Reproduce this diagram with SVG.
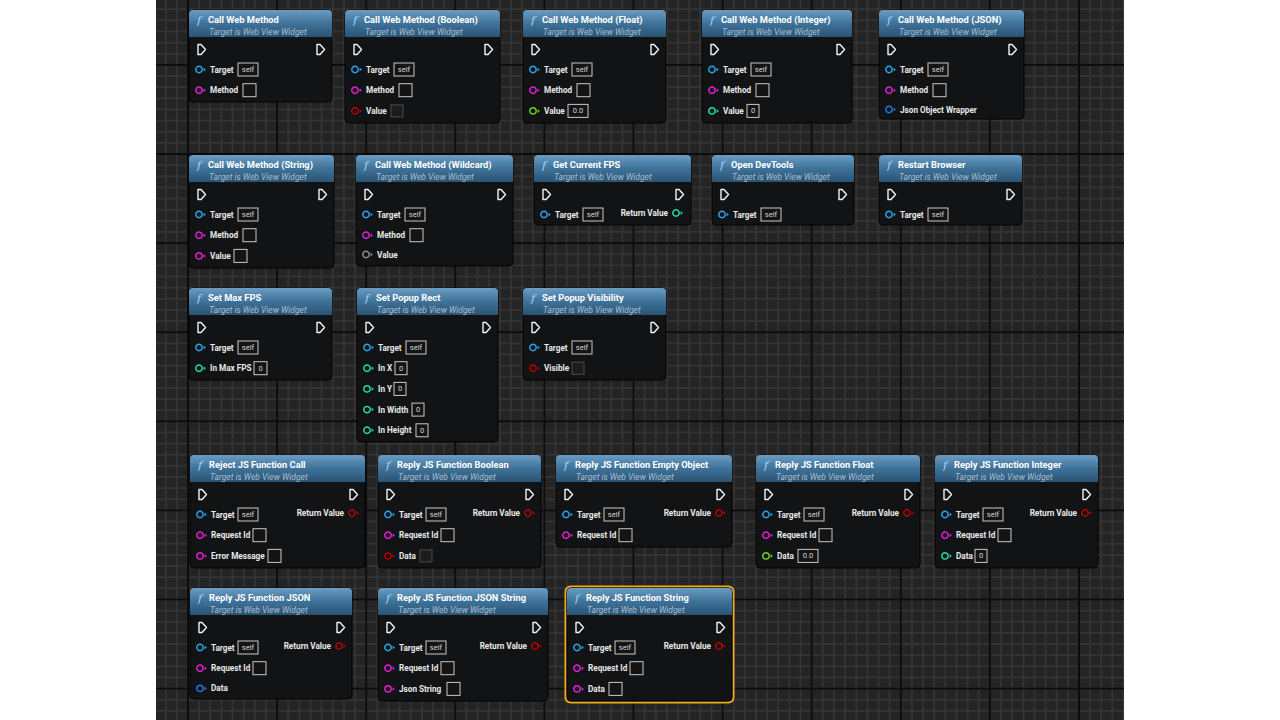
<svg xmlns="http://www.w3.org/2000/svg" xmlns:xlink="http://www.w3.org/1999/xlink" width="1280" height="720" viewBox="0 0 1280 720">
<defs>
<pattern id="minor" patternUnits="userSpaceOnUse" x="188" y="154" width="11.1375" height="11.1375">
<rect width="11.1375" height="11.1375" fill="#242424"/>
<path d="M0,0V11.1375M11.1375,0V11.1375M0,0H11.1375M0,11.1375H11.1375" stroke="#373737" stroke-width="1.4" fill="none"/>
</pattern>
<pattern id="major" patternUnits="userSpaceOnUse" x="188" y="154" width="89.1" height="89.1">
<path d="M0,0V89.1M89.1,0V89.1M0,0H89.1M0,89.1H89.1" stroke="#0c0c0c" stroke-width="2" fill="none"/>
</pattern>
<linearGradient id="hg" x1="0" y1="0" x2="0" y2="1">
<stop offset="0" stop-color="#6b9dc3"/>
<stop offset="0.5" stop-color="#3f7299"/>
<stop offset="1" stop-color="#2a5373"/>
</linearGradient>
<path id="ex" d="M-3.5,-5h3l4.5,5l-4.5,5h-3z" fill="none" stroke="#f2f2f2" stroke-width="1.4" stroke-linejoin="round"/>
<g id="pin"><circle r="3.2" fill="none" stroke="currentColor" stroke-width="1.5"/><path d="M4.6,-2L6.8,0L4.6,2z" fill="currentColor"/></g>
<style>
.body{fill:#121314;stroke:#030303;stroke-width:1}
.hdr{fill:url(#hg)}
.title{font-family:Roboto,"Liberation Sans",sans-serif;font-weight:bold;font-size:9.3px;fill:#ffffff}
.sub{font-family:Roboto,"Liberation Sans",sans-serif;font-style:italic;font-size:8.5px;fill:#a7bfd0}
.fi{font-family:"DejaVu Serif",serif;font-style:italic;font-size:11.5px;fill:#9fd6ff}
.lbl{font-family:Roboto,"Liberation Sans",sans-serif;font-weight:bold;font-size:8.2px;fill:#e8e8e8}
.rl{font-family:Roboto,"Liberation Sans",sans-serif;font-weight:bold;font-size:8.2px;fill:#e8e8e8;text-anchor:end}
.box{fill:#141414;stroke:#c9c9c9;stroke-width:1}
.bbox{fill:#1c1c1c;stroke:#4c4c4c;stroke-width:1}
.val{font-family:Roboto,"Liberation Sans",sans-serif;font-size:7.5px;fill:#d4d4d4;text-anchor:middle}
.obj{color:#27a6ef}
.str{color:#e51ed8}
.bool{color:#b30000}
.flt{color:#6ad21e}
.int{color:#22dca6}
.wild{color:#8c8c8c}
.jsn{color:#1f78e6}
.sel{fill:none;stroke:#f0aa1e;stroke-width:2}
</style>
</defs>
<rect width="1280" height="720" fill="#ffffff"/>
<rect x="156" y="0" width="968" height="720" fill="url(#minor)"/>
<rect x="156" y="0" width="968" height="720" fill="url(#major)"/>
<g id="connectors"></g>

<g id="n1" transform="translate(189,10)">
<rect class="body" width="143" height="92" rx="4"/>
<path class="hdr" d="M0,27V4Q0,0 4,0H139Q143,0 143,4V27Z"/>
<text class="fi" x="8" y="14">f</text><text class="title" x="19" y="12.5">Call Web Method</text>
<text class="sub" x="20" y="24.5">Target is Web View Widget</text>
<use href="#ex" x="12.5" y="39.5"/><use href="#ex" x="131.5" y="39.5"/>
<use href="#pin" class="obj" x="10" y="59.5"/><text class="lbl" x="21" y="62.5">Target</text><rect class="box" x="49" y="53" width="20" height="13"/><text class="val" x="59" y="62">self</text>
<use href="#pin" class="str" x="10" y="80.2"/><text class="lbl" x="21" y="83.2">Method</text><rect class="box" x="54" y="73.7" width="13" height="13"/>
</g>

<g id="n2" transform="translate(345,10)">
<rect class="body" width="155" height="113" rx="4"/>
<path class="hdr" d="M0,27V4Q0,0 4,0H151Q155,0 155,4V27Z"/>
<text class="fi" x="8" y="14">f</text><text class="title" x="19" y="12.5">Call Web Method (Boolean)</text>
<text class="sub" x="20" y="24.5">Target is Web View Widget</text>
<use href="#ex" x="12.5" y="39.5"/><use href="#ex" x="143.5" y="39.5"/>
<use href="#pin" class="obj" x="10" y="59.5"/><text class="lbl" x="21" y="62.5">Target</text><rect class="box" x="49" y="53" width="20" height="13"/><text class="val" x="59" y="62">self</text>
<use href="#pin" class="str" x="10" y="80.2"/><text class="lbl" x="21" y="83.2">Method</text><rect class="box" x="54" y="73.7" width="13" height="13"/>
<use href="#pin" class="bool" x="10" y="100.9"/><text class="lbl" x="21" y="103.9">Value</text><rect class="bbox" x="46" y="94.9" width="12" height="12"/>
</g>

<g id="n3" transform="translate(523,10)">
<rect class="body" width="143" height="113" rx="4"/>
<path class="hdr" d="M0,27V4Q0,0 4,0H139Q143,0 143,4V27Z"/>
<text class="fi" x="8" y="14">f</text><text class="title" x="19" y="12.5">Call Web Method (Float)</text>
<text class="sub" x="20" y="24.5">Target is Web View Widget</text>
<use href="#ex" x="12.5" y="39.5"/><use href="#ex" x="131.5" y="39.5"/>
<use href="#pin" class="obj" x="10" y="59.5"/><text class="lbl" x="21" y="62.5">Target</text><rect class="box" x="49" y="53" width="20" height="13"/><text class="val" x="59" y="62">self</text>
<use href="#pin" class="str" x="10" y="80.2"/><text class="lbl" x="21" y="83.2">Method</text><rect class="box" x="54" y="73.7" width="13" height="13"/>
<use href="#pin" class="flt" x="10" y="100.9"/><text class="lbl" x="21" y="103.9">Value</text><rect class="box" x="45" y="94.4" width="20" height="13"/><text class="val" x="55" y="103.4">0.0</text>
</g>

<g id="n4" transform="translate(702,10)">
<rect class="body" width="150" height="113" rx="4"/>
<path class="hdr" d="M0,27V4Q0,0 4,0H146Q150,0 150,4V27Z"/>
<text class="fi" x="8" y="14">f</text><text class="title" x="19" y="12.5">Call Web Method (Integer)</text>
<text class="sub" x="20" y="24.5">Target is Web View Widget</text>
<use href="#ex" x="12.5" y="39.5"/><use href="#ex" x="138.5" y="39.5"/>
<use href="#pin" class="obj" x="10" y="59.5"/><text class="lbl" x="21" y="62.5">Target</text><rect class="box" x="49" y="53" width="20" height="13"/><text class="val" x="59" y="62">self</text>
<use href="#pin" class="str" x="10" y="80.2"/><text class="lbl" x="21" y="83.2">Method</text><rect class="box" x="54" y="73.7" width="13" height="13"/>
<use href="#pin" class="int" x="10" y="100.9"/><text class="lbl" x="21" y="103.9">Value</text><rect class="box" x="45" y="94.4" width="12" height="13"/><text class="val" x="51" y="103.4">0</text>
</g>

<g id="n5" transform="translate(879,10)">
<rect class="body" width="145" height="109" rx="4"/>
<path class="hdr" d="M0,27V4Q0,0 4,0H141Q145,0 145,4V27Z"/>
<text class="fi" x="8" y="14">f</text><text class="title" x="19" y="12.5">Call Web Method (JSON)</text>
<text class="sub" x="20" y="24.5">Target is Web View Widget</text>
<use href="#ex" x="12.5" y="39.5"/><use href="#ex" x="133.5" y="39.5"/>
<use href="#pin" class="obj" x="10" y="59.5"/><text class="lbl" x="21" y="62.5">Target</text><rect class="box" x="49" y="53" width="20" height="13"/><text class="val" x="59" y="62">self</text>
<use href="#pin" class="str" x="10" y="80.2"/><text class="lbl" x="21" y="83.2">Method</text><rect class="box" x="54" y="73.7" width="13" height="13"/>
<use href="#pin" class="jsn" x="10" y="99.5"/><text class="lbl" x="21" y="102.5">Json Object Wrapper</text>
</g>

<g id="n6" transform="translate(189,155)">
<rect class="body" width="145" height="113" rx="4"/>
<path class="hdr" d="M0,27V4Q0,0 4,0H141Q145,0 145,4V27Z"/>
<text class="fi" x="8" y="14">f</text><text class="title" x="19" y="12.5">Call Web Method (String)</text>
<text class="sub" x="20" y="24.5">Target is Web View Widget</text>
<use href="#ex" x="12.5" y="39.5"/><use href="#ex" x="133.5" y="39.5"/>
<use href="#pin" class="obj" x="10" y="59.5"/><text class="lbl" x="21" y="62.5">Target</text><rect class="box" x="49" y="53" width="20" height="13"/><text class="val" x="59" y="62">self</text>
<use href="#pin" class="str" x="10" y="80.2"/><text class="lbl" x="21" y="83.2">Method</text><rect class="box" x="54" y="73.7" width="13" height="13"/>
<use href="#pin" class="str" x="10" y="100.9"/><text class="lbl" x="21" y="103.9">Value</text><rect class="box" x="45" y="94.4" width="13" height="13"/>
</g>

<g id="n7" transform="translate(356,155)">
<rect class="body" width="157" height="111" rx="4"/>
<path class="hdr" d="M0,27V4Q0,0 4,0H153Q157,0 157,4V27Z"/>
<text class="fi" x="8" y="14">f</text><text class="title" x="19" y="12.5">Call Web Method (Wildcard)</text>
<text class="sub" x="20" y="24.5">Target is Web View Widget</text>
<use href="#ex" x="12.5" y="39.5"/><use href="#ex" x="145.5" y="39.5"/>
<use href="#pin" class="obj" x="10" y="59.5"/><text class="lbl" x="21" y="62.5">Target</text><rect class="box" x="49" y="53" width="20" height="13"/><text class="val" x="59" y="62">self</text>
<use href="#pin" class="str" x="10" y="80.2"/><text class="lbl" x="21" y="83.2">Method</text><rect class="box" x="54" y="73.7" width="13" height="13"/>
<use href="#pin" class="wild" x="10" y="99.5"/><text class="lbl" x="21" y="102.5">Value</text>
</g>

<g id="n8" transform="translate(534,155)">
<rect class="body" width="157" height="70" rx="4"/>
<path class="hdr" d="M0,27V4Q0,0 4,0H153Q157,0 157,4V27Z"/>
<text class="fi" x="8" y="14">f</text><text class="title" x="19" y="12.5">Get Current FPS</text>
<text class="sub" x="20" y="24.5">Target is Web View Widget</text>
<use href="#ex" x="12.5" y="39.5"/><use href="#ex" x="145.5" y="39.5"/>
<use href="#pin" class="obj" x="10" y="59.5"/><text class="lbl" x="21" y="62.5">Target</text><rect class="box" x="49" y="53" width="20" height="13"/><text class="val" x="59" y="62">self</text>
<use href="#pin" class="int" x="142" y="58"/><text class="rl" x="134" y="61">Return Value</text>
</g>

<g id="n9" transform="translate(712,155)">
<rect class="body" width="142" height="70" rx="4"/>
<path class="hdr" d="M0,27V4Q0,0 4,0H138Q142,0 142,4V27Z"/>
<text class="fi" x="8" y="14">f</text><text class="title" x="19" y="12.5">Open DevTools</text>
<text class="sub" x="20" y="24.5">Target is Web View Widget</text>
<use href="#ex" x="12.5" y="39.5"/><use href="#ex" x="130.5" y="39.5"/>
<use href="#pin" class="obj" x="10" y="59.5"/><text class="lbl" x="21" y="62.5">Target</text><rect class="box" x="49" y="53" width="20" height="13"/><text class="val" x="59" y="62">self</text>
</g>

<g id="n10" transform="translate(879,155)">
<rect class="body" width="143" height="70" rx="4"/>
<path class="hdr" d="M0,27V4Q0,0 4,0H139Q143,0 143,4V27Z"/>
<text class="fi" x="8" y="14">f</text><text class="title" x="19" y="12.5">Restart Browser</text>
<text class="sub" x="20" y="24.5">Target is Web View Widget</text>
<use href="#ex" x="12.5" y="39.5"/><use href="#ex" x="131.5" y="39.5"/>
<use href="#pin" class="obj" x="10" y="59.5"/><text class="lbl" x="21" y="62.5">Target</text><rect class="box" x="49" y="53" width="20" height="13"/><text class="val" x="59" y="62">self</text>
</g>

<g id="n11" transform="translate(189,288)">
<rect class="body" width="143" height="92" rx="4"/>
<path class="hdr" d="M0,27V4Q0,0 4,0H139Q143,0 143,4V27Z"/>
<text class="fi" x="8" y="14">f</text><text class="title" x="19" y="12.5">Set Max FPS</text>
<text class="sub" x="20" y="24.5">Target is Web View Widget</text>
<use href="#ex" x="12.5" y="39.5"/><use href="#ex" x="131.5" y="39.5"/>
<use href="#pin" class="obj" x="10" y="59.5"/><text class="lbl" x="21" y="62.5">Target</text><rect class="box" x="49" y="53" width="20" height="13"/><text class="val" x="59" y="62">self</text>
<use href="#pin" class="int" x="10" y="80.2"/><text class="lbl" x="21" y="83.2">In Max FPS</text><rect class="box" x="65" y="73.7" width="13" height="13"/><text class="val" x="71.5" y="82.7">0</text>
</g>

<g id="n12" transform="translate(357,288)">
<rect class="body" width="141" height="154" rx="4"/>
<path class="hdr" d="M0,27V4Q0,0 4,0H137Q141,0 141,4V27Z"/>
<text class="fi" x="8" y="14">f</text><text class="title" x="19" y="12.5">Set Popup Rect</text>
<text class="sub" x="20" y="24.5">Target is Web View Widget</text>
<use href="#ex" x="12.5" y="39.5"/><use href="#ex" x="129.5" y="39.5"/>
<use href="#pin" class="obj" x="10" y="59.5"/><text class="lbl" x="21" y="62.5">Target</text><rect class="box" x="49" y="53" width="20" height="13"/><text class="val" x="59" y="62">self</text>
<use href="#pin" class="int" x="10" y="80.2"/><text class="lbl" x="21" y="83.2">In X</text><rect class="box" x="38" y="73.7" width="12" height="13"/><text class="val" x="44" y="82.7">0</text>
<use href="#pin" class="int" x="10" y="100.9"/><text class="lbl" x="21" y="103.9">In Y</text><rect class="box" x="37" y="94.4" width="12" height="13"/><text class="val" x="43" y="103.4">0</text>
<use href="#pin" class="int" x="10" y="121.6"/><text class="lbl" x="21" y="124.6">In Width</text><rect class="box" x="55" y="115.1" width="12" height="13"/><text class="val" x="61" y="124.1">0</text>
<use href="#pin" class="int" x="10" y="142.3"/><text class="lbl" x="21" y="145.3">In Height</text><rect class="box" x="59" y="135.8" width="12" height="13"/><text class="val" x="65" y="144.8">0</text>
</g>

<g id="n13" transform="translate(523,288)">
<rect class="body" width="143" height="92" rx="4"/>
<path class="hdr" d="M0,27V4Q0,0 4,0H139Q143,0 143,4V27Z"/>
<text class="fi" x="8" y="14">f</text><text class="title" x="19" y="12.5">Set Popup Visibility</text>
<text class="sub" x="20" y="24.5">Target is Web View Widget</text>
<use href="#ex" x="12.5" y="39.5"/><use href="#ex" x="131.5" y="39.5"/>
<use href="#pin" class="obj" x="10" y="59.5"/><text class="lbl" x="21" y="62.5">Target</text><rect class="box" x="49" y="53" width="20" height="13"/><text class="val" x="59" y="62">self</text>
<use href="#pin" class="bool" x="10" y="80.2"/><text class="lbl" x="21" y="83.2">Visible</text><rect class="bbox" x="49" y="74.2" width="12" height="12"/>
</g>

<g id="n14" transform="translate(190,455)">
<rect class="body" width="175" height="113" rx="4"/>
<path class="hdr" d="M0,27V4Q0,0 4,0H171Q175,0 175,4V27Z"/>
<text class="fi" x="8" y="14">f</text><text class="title" x="19" y="12.5">Reject JS Function Call</text>
<text class="sub" x="20" y="24.5">Target is Web View Widget</text>
<use href="#ex" x="12.5" y="39.5"/><use href="#ex" x="163.5" y="39.5"/>
<use href="#pin" class="obj" x="10" y="59.5"/><text class="lbl" x="21" y="62.5">Target</text><rect class="box" x="48" y="53" width="20" height="13"/><text class="val" x="58" y="62">self</text>
<use href="#pin" class="str" x="10" y="80.2"/><text class="lbl" x="21" y="83.2">Request Id</text><rect class="box" x="63" y="73.7" width="13" height="13"/>
<use href="#pin" class="str" x="10" y="100.9"/><text class="lbl" x="21" y="103.9">Error Message</text><rect class="box" x="78" y="94.4" width="13" height="13"/>
<use href="#pin" class="bool" x="162" y="58"/><text class="rl" x="154" y="61">Return Value</text>
</g>

<g id="n15" transform="translate(378,455)">
<rect class="body" width="163" height="113" rx="4"/>
<path class="hdr" d="M0,27V4Q0,0 4,0H159Q163,0 163,4V27Z"/>
<text class="fi" x="8" y="14">f</text><text class="title" x="19" y="12.5">Reply JS Function Boolean</text>
<text class="sub" x="20" y="24.5">Target is Web View Widget</text>
<use href="#ex" x="12.5" y="39.5"/><use href="#ex" x="151.5" y="39.5"/>
<use href="#pin" class="obj" x="10" y="59.5"/><text class="lbl" x="21" y="62.5">Target</text><rect class="box" x="48" y="53" width="20" height="13"/><text class="val" x="58" y="62">self</text>
<use href="#pin" class="str" x="10" y="80.2"/><text class="lbl" x="21" y="83.2">Request Id</text><rect class="box" x="63" y="73.7" width="13" height="13"/>
<use href="#pin" class="bool" x="10" y="100.9"/><text class="lbl" x="21" y="103.9">Data</text><rect class="bbox" x="42" y="94.9" width="12" height="12"/>
<use href="#pin" class="bool" x="150" y="58"/><text class="rl" x="142" y="61">Return Value</text>
</g>

<g id="n16" transform="translate(556,455)">
<rect class="body" width="176" height="92" rx="4"/>
<path class="hdr" d="M0,27V4Q0,0 4,0H172Q176,0 176,4V27Z"/>
<text class="fi" x="8" y="14">f</text><text class="title" x="19" y="12.5">Reply JS Function Empty Object</text>
<text class="sub" x="20" y="24.5">Target is Web View Widget</text>
<use href="#ex" x="12.5" y="39.5"/><use href="#ex" x="164.5" y="39.5"/>
<use href="#pin" class="obj" x="10" y="59.5"/><text class="lbl" x="21" y="62.5">Target</text><rect class="box" x="48" y="53" width="20" height="13"/><text class="val" x="58" y="62">self</text>
<use href="#pin" class="str" x="10" y="80.2"/><text class="lbl" x="21" y="83.2">Request Id</text><rect class="box" x="63" y="73.7" width="13" height="13"/>
<use href="#pin" class="bool" x="163" y="58"/><text class="rl" x="155" y="61">Return Value</text>
</g>

<g id="n17" transform="translate(756,455)">
<rect class="body" width="164" height="113" rx="4"/>
<path class="hdr" d="M0,27V4Q0,0 4,0H160Q164,0 164,4V27Z"/>
<text class="fi" x="8" y="14">f</text><text class="title" x="19" y="12.5">Reply JS Function Float</text>
<text class="sub" x="20" y="24.5">Target is Web View Widget</text>
<use href="#ex" x="12.5" y="39.5"/><use href="#ex" x="152.5" y="39.5"/>
<use href="#pin" class="obj" x="10" y="59.5"/><text class="lbl" x="21" y="62.5">Target</text><rect class="box" x="48" y="53" width="20" height="13"/><text class="val" x="58" y="62">self</text>
<use href="#pin" class="str" x="10" y="80.2"/><text class="lbl" x="21" y="83.2">Request Id</text><rect class="box" x="63" y="73.7" width="13" height="13"/>
<use href="#pin" class="flt" x="10" y="100.9"/><text class="lbl" x="21" y="103.9">Data</text><rect class="box" x="42" y="94.4" width="20" height="13"/><text class="val" x="52" y="103.4">0.0</text>
<use href="#pin" class="bool" x="151" y="58"/><text class="rl" x="143" y="61">Return Value</text>
</g>

<g id="n18" transform="translate(935,455)">
<rect class="body" width="163" height="113" rx="4"/>
<path class="hdr" d="M0,27V4Q0,0 4,0H159Q163,0 163,4V27Z"/>
<text class="fi" x="8" y="14">f</text><text class="title" x="19" y="12.5">Reply JS Function Integer</text>
<text class="sub" x="20" y="24.5">Target is Web View Widget</text>
<use href="#ex" x="12.5" y="39.5"/><use href="#ex" x="151.5" y="39.5"/>
<use href="#pin" class="obj" x="10" y="59.5"/><text class="lbl" x="21" y="62.5">Target</text><rect class="box" x="48" y="53" width="20" height="13"/><text class="val" x="58" y="62">self</text>
<use href="#pin" class="str" x="10" y="80.2"/><text class="lbl" x="21" y="83.2">Request Id</text><rect class="box" x="63" y="73.7" width="13" height="13"/>
<use href="#pin" class="int" x="10" y="100.9"/><text class="lbl" x="21" y="103.9">Data</text><rect class="box" x="40" y="94.4" width="12" height="13"/><text class="val" x="46" y="103.4">0</text>
<use href="#pin" class="bool" x="150" y="58"/><text class="rl" x="142" y="61">Return Value</text>
</g>

<g id="n19" transform="translate(190,588)">
<rect class="body" width="162" height="111" rx="4"/>
<path class="hdr" d="M0,27V4Q0,0 4,0H158Q162,0 162,4V27Z"/>
<text class="fi" x="8" y="14">f</text><text class="title" x="19" y="12.5">Reply JS Function JSON</text>
<text class="sub" x="20" y="24.5">Target is Web View Widget</text>
<use href="#ex" x="12.5" y="39.5"/><use href="#ex" x="150.5" y="39.5"/>
<use href="#pin" class="obj" x="10" y="59.5"/><text class="lbl" x="21" y="62.5">Target</text><rect class="box" x="48" y="53" width="20" height="13"/><text class="val" x="58" y="62">self</text>
<use href="#pin" class="str" x="10" y="80.2"/><text class="lbl" x="21" y="83.2">Request Id</text><rect class="box" x="63" y="73.7" width="13" height="13"/>
<use href="#pin" class="jsn" x="10" y="100.4"/><text class="lbl" x="21" y="103.4">Data</text>
<use href="#pin" class="bool" x="149" y="58"/><text class="rl" x="141" y="61">Return Value</text>
</g>

<g id="n20" transform="translate(378,588)">
<rect class="body" width="170" height="113" rx="4"/>
<path class="hdr" d="M0,27V4Q0,0 4,0H166Q170,0 170,4V27Z"/>
<text class="fi" x="8" y="14">f</text><text class="title" x="19" y="12.5">Reply JS Function JSON String</text>
<text class="sub" x="20" y="24.5">Target is Web View Widget</text>
<use href="#ex" x="12.5" y="39.5"/><use href="#ex" x="158.5" y="39.5"/>
<use href="#pin" class="obj" x="10" y="59.5"/><text class="lbl" x="21" y="62.5">Target</text><rect class="box" x="48" y="53" width="20" height="13"/><text class="val" x="58" y="62">self</text>
<use href="#pin" class="str" x="10" y="80.2"/><text class="lbl" x="21" y="83.2">Request Id</text><rect class="box" x="63" y="73.7" width="13" height="13"/>
<use href="#pin" class="str" x="10" y="100.9"/><text class="lbl" x="21" y="103.9">Json String</text><rect class="box" x="69" y="94.4" width="13" height="13"/>
<use href="#pin" class="bool" x="157" y="58"/><text class="rl" x="149" y="61">Return Value</text>
</g>

<g id="n21" transform="translate(567,588)">
<rect class="sel" x="-1.5" y="-1.5" width="168" height="116" rx="5"/>
<rect class="body" width="165" height="113" rx="4"/>
<path class="hdr" d="M0,27V4Q0,0 4,0H161Q165,0 165,4V27Z"/>
<text class="fi" x="8" y="14">f</text><text class="title" x="19" y="12.5">Reply JS Function String</text>
<text class="sub" x="20" y="24.5">Target is Web View Widget</text>
<use href="#ex" x="12.5" y="39.5"/><use href="#ex" x="153.5" y="39.5"/>
<use href="#pin" class="obj" x="10" y="59.5"/><text class="lbl" x="21" y="62.5">Target</text><rect class="box" x="48" y="53" width="20" height="13"/><text class="val" x="58" y="62">self</text>
<use href="#pin" class="str" x="10" y="80.2"/><text class="lbl" x="21" y="83.2">Request Id</text><rect class="box" x="63" y="73.7" width="13" height="13"/>
<use href="#pin" class="str" x="10" y="100.9"/><text class="lbl" x="21" y="103.9">Data</text><rect class="box" x="42" y="94.4" width="13" height="13"/>
<use href="#pin" class="bool" x="152" y="58"/><text class="rl" x="144" y="61">Return Value</text>
</g>
</svg>
